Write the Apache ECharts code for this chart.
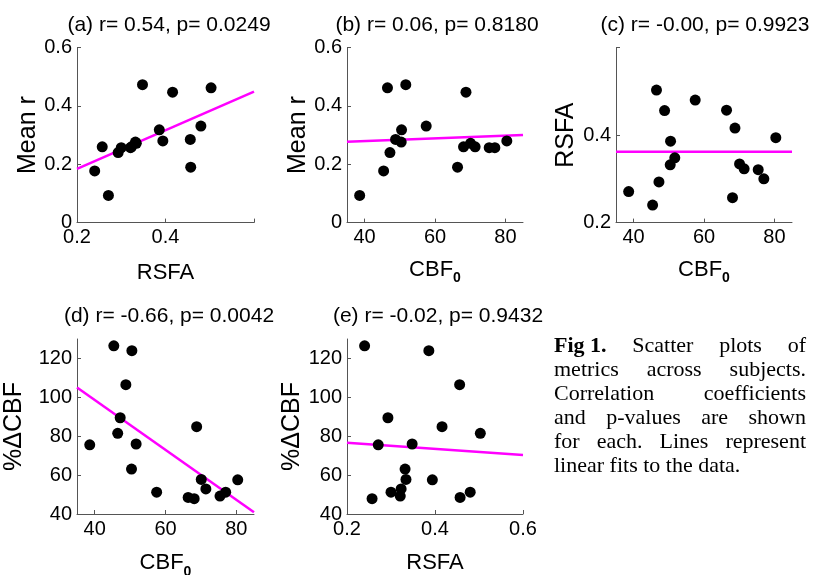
<!DOCTYPE html>
<html>
<head>
<meta charset="utf-8">
<script src="https://cdn.jsdelivr.net/npm/echarts@6/dist/echarts.min.js"></script>
<style>
html, body { margin: 0; padding: 0; background: #fff; }
#chart { width: 823px; height: 575px; }
</style>
</head>
<body>
<div id="chart"></div>
<script>
// one entry per subject
var cbf0 = [38.6, 45.4, 46.5, 47.2, 48.8, 50.5, 50.4, 51.7, 57.5, 66.4, 68.1, 68.8, 70.1, 71.4, 75.4, 77.0, 80.4];
var rsfa = [0.271, 0.240, 0.503, 0.293, 0.456, 0.386, 0.332, 0.348, 0.480, 0.457, 0.257, 0.416, 0.334, 0.323, 0.321, 0.300, 0.394];
var meanR = [0.093, 0.177, 0.462, 0.240, 0.285, 0.318, 0.276, 0.473, 0.331, 0.190, 0.260, 0.447, 0.272, 0.260, 0.257, 0.257, 0.280];
var pctDCBF = [75.6, 126.5, 81.5, 89.5, 106.5, 124.0, 63.1, 76.0, 51.2, 48.5, 47.9, 84.9, 57.8, 52.9, 49.2, 51.2, 57.6];

// fitted lines, end points
var fitAx = [0.2, 0.6], fitAy = [0.184, 0.449];
var fitBx = [35, 85], fitBy = [0.277, 0.300];
var fitCx = [35, 85], fitCy = [0.362, 0.362];
var fitDx = [35, 85], fitDy = [105.1, 40.9];
var fitEx = [0.2, 0.6], fitEy = [76.7, 70.3];

var titles = [
  '(a) r= 0.54, p= 0.0249',
  '(b) r= 0.06, p= 0.8180',
  '(c) r= -0.00, p= 0.9923',
  '(d) r= -0.66, p= 0.0042',
  '(e) r= -0.02, p= 0.9432'
];

// tick labels
var ticksMeanR = [0, 0.2, 0.4, 0.6];
var ticksRsfaA = [0.2, 0.4, 0.6];
var ticksRsfaE = [0.2, 0.4, 0.6];
var ticksCbf = [40, 60, 80];
var ticksRsfaC = [0.2, 0.4, 0.6];
var ticksPct = [40, 60, 80, 100, 120];

var caption = [
  'Fig 1. Scatter plots of',
  'metrics across subjects.',
  'Correlation coefficients',
  'and p-values are shown',
  'for each. Lines represent',
  'linear fits to the data.'
];

var FONT = '"Liberation Sans", Arial, sans-serif';
var SERIF = '"Liberation Serif", "Times New Roman", serif';

function zip(a, b) {
  return a.map(function (v, i) { return [v, b[i]]; });
}

var grids = [
  { left: 77, top: 47.6, width: 177, height: 175 },
  { left: 347, top: 47.6, width: 176, height: 175 },
  { left: 616, top: 47.6, width: 176, height: 175 },
  { left: 77, top: 339, width: 177, height: 175 },
  { left: 347, top: 339, width: 176, height: 175 }
].map(function (g) {
  g.containLabel = false;
  g.outerBoundsMode = 'none';
  return g;
});

var cbfName = '{n|CBF}{s|0}';
var cbfRich = {
  n: { fontSize: 22, fontFamily: FONT, color: '#000' },
  s: { fontSize: 14, fontWeight: 'bold', fontFamily: FONT, color: '#000', padding: [18, 0, 0, 0] }
};

function axis(idx, min, max, ticks, name, gap, hideMax, rich, nameSize) {
  var vals = ticks.slice();
  return {
    type: 'value',
    gridIndex: idx,
    min: min,
    max: max,
    name: name,
    nameLocation: 'middle',
    nameGap: gap,
    nameTextStyle: { fontSize: nameSize || 22, fontFamily: FONT, color: '#000', rich: rich },
    axisLine: { show: true, onZero: false, lineStyle: { color: '#555', width: 1 } },
    axisTick: { show: true, inside: true, length: 4, customValues: vals, lineStyle: { color: '#555' } },
    axisLabel: {
      fontSize: 20, fontFamily: FONT, color: '#000', margin: 5,
      customValues: hideMax ? vals.slice(0, vals.length - 1) : vals,
      formatter: function (v) { return v === 0 ? '0' : String(+v.toFixed(2)); }
    },
    splitLine: { show: false }
  };
}

var xAxes = [
  axis(0, 0.2, 0.6, ticksRsfaA, 'RSFA', 39, true),
  axis(1, 35, 85, ticksCbf, cbfName, 31, false, cbfRich),
  axis(2, 35, 85, ticksCbf, cbfName, 31, false, cbfRich),
  axis(3, 35, 85, ticksCbf, cbfName, 33, false, cbfRich),
  axis(4, 0.2, 0.6, ticksRsfaE, 'RSFA', 38, false)
];
var yAxes = [
  axis(0, 0, 0.6, ticksMeanR, 'Mean r', 36, false, null, 25),
  axis(1, 0, 0.6, ticksMeanR, 'Mean r', 36, false, null, 25),
  axis(2, 0.2, 0.6, ticksRsfaC, 'RSFA', 37, true, null, 25),
  axis(3, 40, 130, ticksPct, '%\u0394CBF', 50, false, null, 25),
  axis(4, 40, 130, ticksPct, '%\u0394CBF', 40, false, null, 25)
];

var panels = [
  { pts: zip(rsfa, meanR), fit: zip(fitAx, fitAy) },
  { pts: zip(cbf0, meanR), fit: zip(fitBx, fitBy) },
  { pts: zip(cbf0, rsfa), fit: zip(fitCx, fitCy) },
  { pts: zip(cbf0, pctDCBF), fit: zip(fitDx, fitDy) },
  { pts: zip(rsfa, pctDCBF), fit: zip(fitEx, fitEy) }
];

var series = [];
panels.forEach(function (p, i) {
  series.push({
    type: 'line', xAxisIndex: i, yAxisIndex: i, data: p.fit,
    symbol: 'none', silent: true, z: 2,
    lineStyle: { color: '#ff00ff', width: 2.5 }
  });
  series.push({
    type: 'scatter', xAxisIndex: i, yAxisIndex: i, data: p.pts,
    symbol: 'circle', symbolSize: 11, z: 3,
    itemStyle: { color: '#000', opacity: 1 }
  });
});

var titleCenters = [164, 432, 700, 164, 433];
var titleTops = [10, 10, 10, 301, 301];
var title = titles.map(function (t, i) {
  return {
    text: t, left: titleCenters[i], top: titleTops[i], textAlign: 'center',
    textStyle: { fontSize: 21, fontWeight: 'normal', fontFamily: FONT, color: '#000' }
  };
});

// caption, justified like the figure text
var capLeft = 554, capRight = 806, capTop = 347, capStep = 24, capSize = 22;
var measure = document.createElement('canvas').getContext('2d');
function wordWidth(w, bold) {
  measure.font = (bold ? 'bold ' : '') + capSize + 'px ' + SERIF;
  return measure.measureText(w).width;
}
var graphic = [];
caption.forEach(function (line, li) {
  var words = line.split(' ');
  var parts = [];
  if (li === 0) {
    parts.push({ t: 'Fig 1.', bold: true });
    words = words.slice(2);
  }
  words.forEach(function (w) { parts.push({ t: w, bold: false }); });
  var y = capTop + li * capStep;
  var total = 0;
  parts.forEach(function (p) { total += wordWidth(p.t, p.bold); });
  var justify = li < caption.length - 1;
  var gap = justify ? (capRight - capLeft - total) / (parts.length - 1) : wordWidth(' ', false);
  var x = capLeft;
  parts.forEach(function (p) {
    graphic.push({
      type: 'text', left: x, top: y - capSize / 2 - 1,
      style: { text: p.t, font: (p.bold ? 'bold ' : '') + capSize + 'px ' + SERIF, fill: '#000' }
    });
    x += wordWidth(p.t, p.bold) + gap;
  });
});

var chart = echarts.init(document.getElementById('chart'));
chart.setOption({
  backgroundColor: '#fff',
  animation: false,
  title: title,
  grid: grids,
  xAxis: xAxes,
  yAxis: yAxes,
  series: series,
  graphic: graphic
});
</script>
</body>
</html>
